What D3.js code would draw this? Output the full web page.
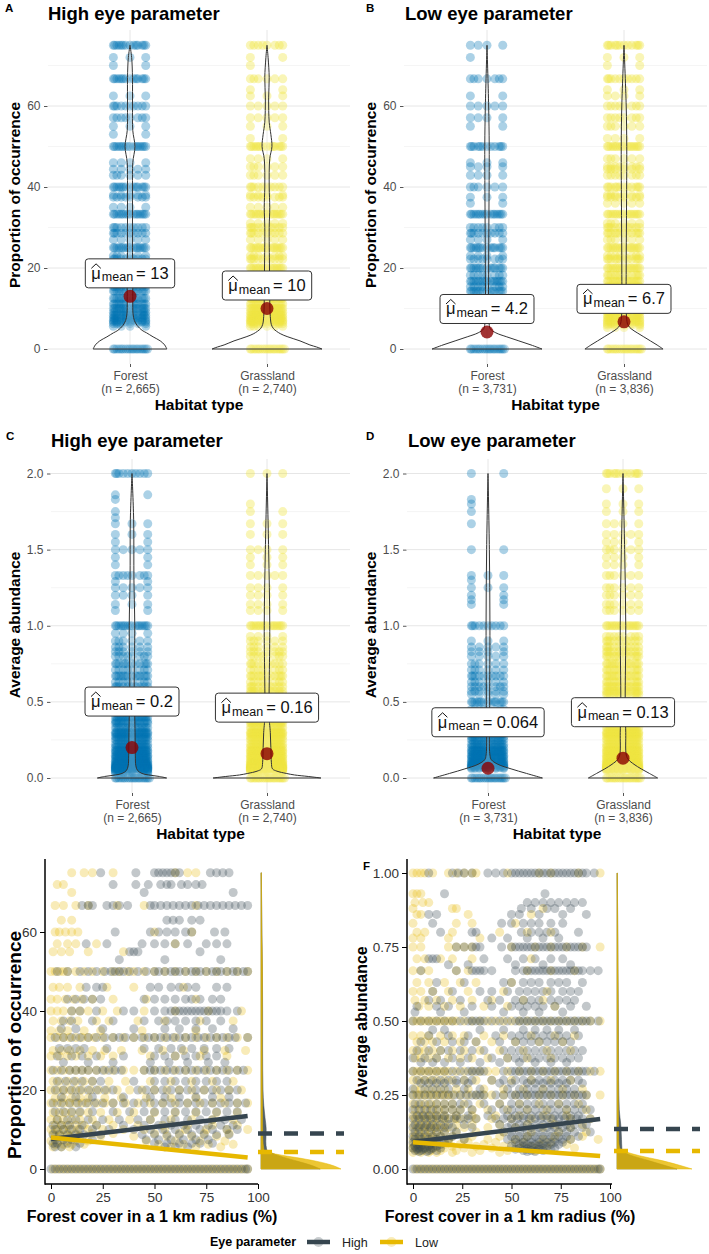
<!DOCTYPE html>
<html><head><meta charset="utf-8">
<script src="https://cdnjs.cloudflare.com/ajax/libs/d3/7.8.5/d3.min.js"></script>
<style>body{margin:0;background:#fff;} svg{display:block;font-family:"Liberation Sans",Arial,sans-serif;}</style>
</head><body><svg id="c" width="709" height="1254"></svg>
<script>
// ---------------- DATA ----------------
const categories = ["Forest", "Grassland"];
const nHigh = ["2,665", "2,740"];
const nLow = ["3,731", "3,836"];
const occTicks = [0, 20, 40, 60];
const occMinor = [10, 30, 50, 70];
const abTicks = [0, 0.5, 1.0, 1.5, 2.0];
const abMinor = [0.25, 0.75, 1.25, 1.75];

const meanOccHigh = [13, 10];
const meanOccLow = [4.2, 6.7];
const meanAbHigh = [0.2, 0.16];
const meanAbLow = [0.064, 0.13];
const meanTextOccHigh = ["13", "10"];
const meanTextOccLow = ["4.2", "6.7"];
const meanTextAbHigh = ["0.2", "0.16"];
const meanTextAbLow = ["0.064", "0.13"];

// observed value levels [value, number of overlapping points]
const levOccHighForest = [[75,14],[72,3],[70,2],[66.7,14],[62.5,3],[60,10],[57.1,8],[55,3],[53,2],[50,16],[46,4],[44.4,5],[42.9,6],[40,14],[38,5],[37.5,8],[35,4],[33.3,16],[30,10],[28.6,10],[27,5],[25,16],[23,6],[22.2,10],[20,16],[18.2,10],[16.7,16],[15.4,10],[14.3,14],[12.5,14],[11.1,14],[10,14],[9.1,12],[8.3,12],[7.7,10],[7.1,10],[6.7,8],[6.25,6],[5.6,4],[0,18]];
const levOccHighGrass = [[75,8],[72,2],[70,1],[66.7,6],[64,2],[62.5,3],[60,5],[57.1,5],[55,3],[52,2],[50,14],[47,4],[45,6],[42.9,6],[40,10],[38,4],[37.5,8],[35,5],[33.3,16],[31,5],[30,10],[28.6,10],[27,5],[25,16],[23,7],[22.2,10],[20,16],[18.2,12],[16.7,16],[15.4,12],[14.3,16],[13,10],[12.5,14],[11.1,14],[10,16],[9.1,14],[8.3,14],[7.7,12],[7.1,12],[6.7,10],[6.25,8],[5.6,6],[0,18]];
const levOccLowForest = [[75,4],[72,1],[66.7,7],[62.5,2],[60,5],[57.1,4],[55,2],[50,12],[46,3],[45,4],[42.9,4],[40,6],[37.5,3],[36,2],[33.3,16],[30,8],[28.6,10],[27,4],[25,14],[23,4],[22.2,8],[20,14],[18.2,8],[16.7,16],[15.4,8],[14.3,14],[12.5,10],[11.1,8],[10,6],[0,18]];
const levOccLowGrass = [[75,12],[72,3],[70,2],[66.7,10],[64,3],[62.5,4],[60,8],[57.1,8],[55,6],[52,4],[50,16],[47,6],[45,8],[44.4,6],[42.9,8],[40,12],[38,6],[37.5,8],[36,5],[33.3,16],[31,6],[30,10],[28.6,12],[27,6],[25,16],[23,8],[22.2,12],[20,16],[18.2,12],[16.7,16],[15.4,12],[14.3,16],[13,10],[12.5,14],[11.1,14],[10,14],[9.1,12],[8.3,12],[7.7,10],[7.1,10],[6.7,8],[6.25,6],[5.9,5],[5.3,4],[0,18]];
const levAbHighForest = [[2.0,10],[1.86,2],[1.83,1],[1.75,1],[1.71,1],[1.67,3],[1.6,3],[1.55,2],[1.5,5],[1.45,2],[1.4,2],[1.33,8],[1.29,2],[1.25,5],[1.2,4],[1.14,3],[1.1,2],[1.0,16],[0.95,4],[0.9,6],[0.86,6],[0.83,6],[0.8,8],[0.75,12],[0.71,8],[0.67,14],[0.63,8],[0.6,10],[0.57,8],[0.55,8],[0.5,16],[0.45,12],[0.43,12],[0.4,16],[0.375,14],[0.36,10],[0.33,16],[0.3,16],[0.29,14],[0.27,14],[0.25,16],[0.22,16],[0.2,16],[0.18,16],[0.17,16],[0.15,16],[0.14,16],[0.125,16],[0.11,16],[0.1,16],[0.09,14],[0.083,14],[0.077,12],[0.071,12],[0.067,10],[0.0625,10],[0.059,8],[0.056,8],[0.05,8],[0.04,6],[0.033,4],[0,18]];
const levAbHighGrass = [[2.0,3],[1.8,1],[1.75,2],[1.67,3],[1.6,3],[1.5,4],[1.45,3],[1.4,3],[1.33,5],[1.25,4],[1.2,4],[1.14,4],[1.1,4],[1.0,16],[0.93,4],[0.9,6],[0.86,6],[0.83,7],[0.8,8],[0.75,10],[0.71,8],[0.67,12],[0.63,8],[0.6,10],[0.57,10],[0.55,8],[0.5,16],[0.45,12],[0.43,12],[0.4,16],[0.375,14],[0.36,12],[0.33,16],[0.3,16],[0.29,16],[0.27,16],[0.25,16],[0.22,16],[0.2,16],[0.18,16],[0.17,16],[0.15,16],[0.14,16],[0.125,16],[0.11,16],[0.1,16],[0.09,16],[0.083,14],[0.077,14],[0.071,12],[0.067,12],[0.0625,10],[0.059,10],[0.056,8],[0.05,8],[0.04,6],[0,18]];
const levAbLowForest = [[2.0,2],[1.83,1],[1.8,1],[1.75,1],[1.67,1],[1.5,2],[1.33,3],[1.3,1],[1.25,3],[1.2,2],[1.17,2],[1.14,2],[1.0,10],[0.9,3],[0.86,5],[0.83,4],[0.8,5],[0.75,6],[0.71,6],[0.67,10],[0.63,6],[0.6,8],[0.57,6],[0.55,5],[0.5,14],[0.45,8],[0.43,8],[0.4,10],[0.375,10],[0.33,16],[0.3,12],[0.29,12],[0.27,10],[0.25,16],[0.22,14],[0.2,16],[0.18,14],[0.17,16],[0.15,14],[0.14,14],[0.125,14],[0.11,12],[0.1,12],[0.09,10],[0.083,10],[0.077,8],[0.071,8],[0.067,8],[0.0625,6],[0,18]];
const levAbLowGrass = [[2.0,12],[1.9,3],[1.8,3],[1.75,3],[1.67,4],[1.6,5],[1.55,4],[1.5,6],[1.45,4],[1.4,4],[1.33,6],[1.25,6],[1.2,6],[1.14,6],[1.1,6],[1.0,16],[0.93,8],[0.9,10],[0.86,10],[0.83,10],[0.8,12],[0.75,14],[0.71,12],[0.67,14],[0.63,12],[0.6,14],[0.57,12],[0.55,12],[0.5,16],[0.45,14],[0.43,14],[0.4,16],[0.375,14],[0.36,14],[0.33,16],[0.3,16],[0.29,16],[0.27,16],[0.25,16],[0.22,16],[0.2,16],[0.18,16],[0.17,16],[0.15,16],[0.14,16],[0.125,16],[0.11,16],[0.1,16],[0.09,16],[0.083,14],[0.077,14],[0.071,12],[0.067,12],[0.0625,10],[0.059,10],[0.056,8],[0.05,8],[0,18]];

// violin densities [value, relative density]
const vioOccHighForest = [[0,0.67],[1,0.63],[2,0.55],[3,0.42],[4,0.3],[4.6,0.22],[5.8,0.13],[7,0.08],[8.7,0.055],[12,0.05],[16,0.05],[25,0.045],[33,0.045],[40,0.045],[46,0.05],[50,0.09],[54,0.05],[60,0.045],[67,0.045],[72,0.03],[75,0]];
const vioOccHighGrass = [[0,1.0],[0.5,0.9],[1,0.78],[2,0.6],[3,0.38],[3.8,0.24],[5,0.12],[6,0.08],[8,0.06],[12,0.05],[20,0.045],[30,0.04],[35,0.05],[40,0.04],[47,0.05],[50,0.09],[53,0.07],[56,0.04],[62,0.03],[67,0.04],[72,0.02],[75,0]];
const vioOccLowForest = [[0,1.0],[1,0.8],[2,0.58],[3,0.36],[4,0.16],[5,0.06],[7,0.035],[20,0.03],[33,0.035],[50,0.04],[60,0.03],[75,0]];
const vioOccLowGrass = [[0,0.71],[1,0.6],[2,0.48],[3,0.36],[4,0.24],[5,0.13],[6,0.07],[8,0.045],[20,0.04],[33,0.045],[50,0.05],[60,0.04],[75,0]];
const vioAbHighForest = [[0,0.63],[0.01,0.5],[0.02,0.3],[0.03,0.18],[0.05,0.1],[0.08,0.07],[0.15,0.06],[0.3,0.055],[0.4,0.05],[0.6,0.04],[1.0,0.05],[1.3,0.035],[1.7,0.03],[2.0,0]];
const vioAbHighGrass = [[0,0.98],[0.01,0.75],[0.02,0.5],[0.03,0.35],[0.045,0.18],[0.06,0.1],[0.1,0.08],[0.2,0.07],[0.3,0.06],[0.4,0.04],[1.0,0.05],[1.5,0.03],[2.0,0]];
const vioAbLowForest = [[0,0.99],[0.03,0.7],[0.06,0.42],[0.09,0.18],[0.12,0.06],[0.15,0.035],[0.5,0.03],[1.0,0.035],[1.5,0.025],[2.0,0]];
const vioAbLowGrass = [[0,0.63],[0.03,0.48],[0.06,0.33],[0.09,0.2],[0.12,0.1],[0.15,0.06],[0.3,0.05],[0.5,0.04],[1.0,0.05],[1.5,0.03],[2.0,0]];

// fixed horizontal spread pattern for overlapping points (fraction of jitter width)
const jitterPattern = [-0.95, 0.9, 0.0, -0.5, 0.45, -0.75, 0.7, -0.25, 0.22, -0.88, 0.8, -0.4, 0.35, -0.62, 0.58, -0.12, 0.12, 1.0];

// ---- scatter panels (E, F): forest cover (%) per observed y level ----
const eyeGroups = ["High", "Low"];
const coverTicks = [0, 25, 50, 75, 100];
const occTicksE = [0, 20, 40, 60];
const abTicksF = [0, 0.25, 0.5, 0.75, 1.0];

const rowsEHigh = [
[75,"24 41 50 52 54 56 58 60 62 77 80 83 86"],[72,"30 41 47 53 56 58 63 66 70 73"],[70,"45 88"],
[66.7,"15 18 20 27 30 33 37 48 50 53 56 59 62 65 68 71 74 77 80 83 86 89 92 95"],[63,"56 59 62 68 72"],
[60,"31 48 52 56 60 65 68 79 84"],[57,"17 27 44 50 55 60 66 75 80 85"],[55,"38 40 42 72"],[53,"33 55 82"],
[50,"3 8 14 18 22 26 29 31 33 35 38 42 46 50 52 55 58 60 62 65 68 70 72 75 78 80 82 85 88 90 93 95"],
[46,"17 22 25 48 52 58 62 66 70 80 85"],[43,"8 12 16 20 24 45 50 55 60 65 68 72 78 82"],
[40,"10 14 22 35 40 50 55 58 60 62 64 66 68 70 72 74 76 78 80 82 85 90"],[37.5,"6 10 20 30 45 52 56 60 65 70 75 82"],
[35.5,"5 12 25 40 55 62 70 78 88"],
[33.3,"2 6 10 14 18 22 26 30 33 36 40 44 47 50 53 56 59 62 65 68 71 74 77 80 83 86 89 95"],
[30.5,"4 8 12 16 27 45 52 58 63 68 74 80 86"],[28.6,"3 10 15 22 35 50 55 60 65 70 75 80"],[27,"6 18 30 48 57 66 76 84"],
[25,"1 5 9 12 15 18 22 25 28 31 34 45 48 50 53 56 59 62 65 68 71 74 77 80 83 86 90 93"],
[22.2,"3 7 11 15 20 24 40 50 55 60 65 70 75 80 85"],
[20,"2 6 10 14 18 22 26 30 42 46 50 54 58 62 66 70 74 78 82 86 90"],[18.2,"5 12 20 35 48 55 62 70 78 86"],
[16.7,"1 5 9 13 17 21 25 30 35 40 45 50 54 58 62 66 70 74 78 82 86 90 94"],
[14.5,"2 6 10 14 20 30 38 45 50 55 60 65 70 75 80 85 90"],[12.5,"3 8 12 18 25 33 42 48 55 60 66 72 78 84 92"],
[11.1,"1 5 9 15 22 35 45 52 58 64 70 76 82 88"],[10,"2 6 10 14 20 28 40 48 54 60 66 72 78 85 90"],
[8.7,"1 4 8 12 16 24 44 50 56 62 68 74 80 86"],[7.4,"2 6 10 20 46 52 58 64 70 76"],
[6.5,"1 3 8 14 50 56 62 68 72 78"],[5.6,"2 5 12 55 60 66"],
[0,"0 2 4 6 8 10 12 14 16 18 20 22 24 26 28 30 32 34 36 38 40 42 44 46 48 50 52 54 56 58 60 62 64 66 68 70 72 74 76 78 80 82 84 86 88 90 92 94 95"]
];
const rowsELow = [
[75,"10 16 20 30 60 66 70"],[72,"3 6"],[70,"10"],
[66.7,"2 6 12 18 32 45 70"],[63,"5 10"],[60,"2 4 7 10 13 50 68"],
[57,"3 8 12 22 60"],[55,"1 5 9 18 35"],
[50,"0 2 4 6 8 12 16 20 25 30 33 37 40 45 50 55 60 65 70 75 80 85 90 95"],
[46,"1 4 8 14 27 40 64"],[43,"0 3 7 11 15 20 30 46 70"],
[40,"0 3 6 10 14 18 25 32 45 60 76 92"],[37.5,"1 5 9 13 22 28 42 55 72 88"],[35,"0 4 8 16 24 44 70"],
[33.3,"0 3 6 9 12 15 18 21 25 30 35 40 45 50 55 60 65 70 75 80 85 90 95"],
[30,"1 5 9 14 20 26 34 44 54 64 74 84 94"],[28.6,"0 4 8 12 18 24 30 48 60 72 85"],
[25,"0 3 6 9 12 15 18 22 26 30 35 40 45 50 55 60 65 70 75 80 85 90 95"],
[22.2,"1 4 8 12 16 20 28 36 48 58 68 78 88"],
[20,"0 3 6 9 12 15 19 23 27 32 38 44 50 56 62 68 74 80 86 92"],[18,"2 6 10 14 18 26 34 46 58 70 82"],
[16.7,"0 3 6 9 12 15 18 22 26 30 36 42 48 54 60 66 72 78 84 90 95"],
[14.3,"1 4 7 10 14 18 24 32 40 50 60 70 80 90"],[12.5,"0 3 6 10 14 20 28 38 48 58 68 78 88"],
[11.1,"2 5 8 12 16 22 30 42 54 66 78 90"],[10,"0 3 6 9 13 18 25 35 45 55 65 75 85 95"],
[9,"1 4 8 12 20 30 50 62 74 86"],[8.3,"2 5 9 14 24 40 56 68 80"],[7.1,"0 4 8 12 18 46 60 72 84"],
[6.25,"2 6 10 16 52 64 76 88"],[5.6,"1 5 9 58 70 82"],
[0,"1 3 5 7 9 11 13 15 17 19 21 23 25 27 29 31 33 35 37 39 41 43 45 47 49 51 53 55 57 59 61 63 65 67 69 71 73 75 77 79 81 83 85 87 89 91 93 95"]
];
const rowsFHigh = [
[1.0,"8 20 23 26 30 38 42 46 50 52 54 56 58 60 62 64 66 68 70 72 74 76 78 80 82 84 86 88 92"],[0.93,"16 67"],
[0.9,"58 62 66 70 74 78 82 86"],[0.88,"55 60 68 72 80"],[0.86,"8 12 50 54 64 76 88"],[0.83,"10 45 50 56 60 64 70 76"],
[0.8,"14 30 32 55 60 64 68 72 84"],[0.78,"40 48 58 66 74"],
[0.75,"22 26 30 32 34 45 50 52 54 56 58 60 62 64 66 68 70 72 74 76 78 80 82 84 86 88"],
[0.71,"8 10 12 36 48 56 62 70 76"],[0.69,"18 28 52 66 80"],
[0.67,"4 22 30 32 34 36 40 52 56 58 60 62 64 66 68 70 72 74 76 78 80 82 84 86 90 94"],
[0.63,"12 26 46 50 56 60 64 70 74 78 86"],[0.6,"10 20 34 40 48 54 58 62 66 70 76 80 84"],
[0.57,"8 14 24 38 44 52 56 60 64 70 74 78 82"],[0.55,"2 12 18 30 40 50 54 58 62 66 72 80 88"],[0.53,"1 14 26 46 56 64 76"],
[0.5,"0 4 8 12 16 20 24 28 30 32 34 36 40 44 48 52 54 56 58 60 62 64 66 68 70 72 74 76 78 80 82 84 86 88 90 94"],
[0.47,"10 16 34 46 56 62 68 74 82"],[0.45,"8 18 28 42 50 54 58 62 66 70 74 78 84"],
[0.43,"4 12 20 26 32 44 52 56 60 64 68 72 76 80"],[0.4,"2 8 14 18 24 30 36 46 50 54 58 62 66 70 74 78 82 86"],
[0.375,"0 6 12 20 28 40 48 52 56 60 64 68 72 76 80 84"],[0.36,"4 10 16 24 34 44 54 62 70 78"],
[0.33,"0 4 8 12 16 20 24 28 30 32 34 36 46 50 52 54 56 58 60 62 64 66 68 70 72 74 76 78 80 82 84 86 88 92"],
[0.3,"2 6 10 14 18 22 26 30 40 46 52 56 60 64 68 72 76 80 84"],[0.29,"4 8 12 16 22 28 44 50 58 62 66 70 74 78 86"],
[0.27,"0 6 10 14 18 26 34 48 54 58 62 66 70 74 78 82"],
[0.25,"0 3 6 9 12 15 18 21 24 27 30 32 34 36 42 46 50 52 54 56 58 60 62 64 66 68 70 72 74 76 78 80 82 84 86 88"],
[0.22,"1 4 8 12 16 20 24 28 36 44 50 54 58 62 66 70 74 78 82 86"],
[0.2,"0 3 6 9 12 16 20 24 30 40 46 50 54 58 62 66 70 74 78 82 86 90"],
[0.18,"2 5 8 12 16 22 28 38 48 52 56 60 64 68 72 76 80 84"],
[0.17,"0 3 6 9 12 15 18 21 24 28 32 42 46 50 53 56 59 62 65 68 71 74 77 80 83 86 90"],
[0.15,"1 4 7 10 14 18 26 44 50 54 58 62 66 70 74 78 82 88"],[0.14,"0 3 6 9 12 16 20 30 48 52 56 60 64 68 72 76 80 86"],
[0.125,"1 4 8 12 16 22 46 50 54 58 62 66 70 74 78 82 90"],[0.11,"0 3 6 10 14 20 50 54 58 62 66 70 74 78 84"],
[0.1,"1 4 8 12 18 26 48 52 56 60 64 68 72 76 80"],[0.09,"0 3 6 10 16 52 56 60 64 68 72 76"],
[0.083,"2 5 9 14 54 58 62 66 70 74"],[0.077,"1 4 8 12 50 56 60 64 68"],[0.071,"0 3 6 10 14 54 58 62 66 72"],
[0.067,"2 5 9 52 58 64 70"],[0.0625,"1 4 8 12 56 60 66"],[0.059,"3 7 58 62"],
[0,"0 2 4 6 8 10 12 14 16 18 20 22 24 26 28 30 32 34 36 38 40 42 44 46 48 50 52 54 56 58 60 62 64 66 68 70 72 74 76 78 80 82 84 86 88 90 92 94 95"]
];
const rowsFLow = [
[1.0,"0 2 4 6 10 18 22 26 30 32 48 64 70 84 95"],[0.93,"0 2 4"],[0.9,"1 5 8"],[0.88,"0 20 22 66"],
[0.86,"2 4 28 60"],[0.83,"0 22 30 52"],[0.8,"2 6 20 44 58 70"],[0.78,"0 4 18 34"],
[0.75,"0 4 18 22 26 30 50 62 70 78 86 95"],[0.71,"2 6 14 20 30 60"],
[0.67,"0 4 8 22 28 58 70 82"],[0.63,"2 8 16 24 32 50"],[0.6,"0 4 10 18 28 46 68"],
[0.57,"1 6 12 20 30 40 56 66"],[0.55,"3 8 16 24 36 48 72"],
[0.5,"0 2 4 6 8 10 12 14 16 18 20 22 26 30 34 38 42 46 50 54 58 62 66 70 74 78 82 86 90 95"],
[0.45,"0 4 8 14 20 26 36 46 60 72 82"],[0.43,"2 6 10 16 24 32 40 52 64 76"],[0.4,"0 3 6 10 14 20 26 34 44 56 68 80"],
[0.375,"1 4 8 12 18 24 30 38 48 58 70"],
[0.33,"0 2 4 6 8 10 12 14 16 18 22 26 30 34 38 42 48 54 60 66 72 78 84 90 95"],
[0.3,"0 3 6 9 12 16 20 26 32 40 50 60 70 80"],[0.27,"1 4 8 12 16 22 28 36 46 56 66 76 86"],
[0.25,"0 2 4 6 8 10 12 14 16 18 20 24 28 32 36 40 46 52 58 64 70 76 82 88 95"],
[0.22,"0 3 6 9 12 16 20 26 34 44 54 64 74 84"],[0.2,"1 4 7 10 13 16 20 24 30 38 48 58 68 78 88"],
[0.18,"0 3 6 9 12 16 22 30 42 54 66 78"],[0.17,"1 4 7 10 13 16 19 22 26 32 40 50 60 70 80 90"],
[0.15,"0 3 6 9 12 16 22 30 44 58 72 86"],[0.14,"2 5 8 11 14 18 26 38 52 66 80"],
[0.125,"0 3 6 9 12 16 22 32 46 60 74 88"],[0.11,"1 4 7 10 14 20 30 44 58 72 86"],
[0.1,"0 3 6 9 12 18 26 38 52 66 80 94"],[0.09,"2 5 8 12 18 28 42 56 70"],[0.083,"0 3 6 10 16 24 36 50 64 78"],
[0.077,"1 4 8 12 20 32 46 60"],[0.071,"0 3 6 10 16 26 40 54 68 82"],[0.0625,"2 5 9 14 22 34 48 62"],
[0.056,"0 4 8 12 20 30 44"],
[0,"1 3 5 7 9 11 13 15 17 19 21 23 25 27 29 31 33 35 37 39 41 43 45 47 49 51 53 55 57 59 61 63 65 67 69 71 73 75 77 79 81 83 85 87 89 91 93 95"]
];

// regression lines [forest cover, fitted value]
const regEHigh = [[0, 7.6], [95, 13.4]];
const regELow = [[0, 8.0], [95, 2.9]];
const regFHigh = [[0, 0.091], [95, 0.169]];
const regFLow = [[0, 0.09], [95, 0.044]];
// group means shown as dashed lines
const meanLineE = [9.0, 4.3];
const meanLineF = [0.135, 0.061];
// marginal densities [value, relative density]
const densEHigh = [[0,0.74],[1,0.62],[2,0.45],[3,0.28],[4,0.14],[5,0.07],[7,0.06],[10,0.065],[13,0.05],[16,0.035],[20,0.025],[30,0.02],[40,0.02],[50,0.018],[60,0.012],[75,0.004]];
const densELow = [[0,1.0],[1,0.88],[1.8,0.73],[2.7,0.5],[3.5,0.26],[4.3,0.08],[5,0.035],[8,0.022],[15,0.018],[30,0.015],[50,0.018],[60,0.01],[75,0.004]];
const densFHigh = [[0,0.8],[0.015,0.6],[0.03,0.4],[0.05,0.15],[0.07,0.065],[0.1,0.06],[0.15,0.05],[0.2,0.03],[0.3,0.022],[0.5,0.018],[1,0.004]];
const densFLow = [[0,1.0],[0.015,0.8],[0.03,0.57],[0.045,0.3],[0.06,0.1],[0.07,0.035],[0.1,0.022],[0.2,0.018],[0.5,0.016],[0.75,0.012],[1,0.004]];

// ---------------- DRAWING ----------------
const habitatColors = ["#0072B2", "#F0E442"];
const eyeColors = ["#36454F", "#E7B800"];
const svg = d3.select("#c");
svg.append("rect").attr("width", 709).attr("height", 1254).attr("fill", "#fff");

function styleAxis(g, color, size, tickColor) {
  g.select(".domain").remove();
  g.selectAll(".tick line").attr("stroke", tickColor || "#333").attr("stroke-width", 1);
  g.selectAll(".tick text").attr("fill", color).attr("font-size", size)
    .attr("font-family", '"Liberation Sans", Arial, sans-serif');
}

function meanLabel(g, cx, cy, valueText) {
  const grp = g.append("g");
  const rect = grp.append("rect");
  const base = cy + 5.5;
  const t1 = grp.append("text").attr("font-size", 16.5).attr("fill", "#111").text("μ");
  const w1 = t1.node().getComputedTextLength();
  const t2 = grp.append("text").attr("font-size", 12.5).attr("fill", "#111").text("mean");
  const w2 = t2.node().getComputedTextLength();
  const t3 = grp.append("text").attr("font-size", 16.5).attr("fill", "#111").text("= " + valueText);
  const w3 = t3.node().getComputedTextLength();
  const total = w1 + 1 + w2 + 3 + w3;
  const x0 = cx - total / 2;
  t1.attr("x", x0).attr("y", base);
  t2.attr("x", x0 + w1 + 1).attr("y", base + 2.5);
  t3.attr("x", x0 + w1 + 1 + w2 + 3).attr("y", base);
  grp.append("path").attr("d", `M${x0},${base - 10.5}L${x0 + w1 / 2},${base - 15}L${x0 + w1},${base - 10.5}`)
    .attr("fill", "none").attr("stroke", "#111").attr("stroke-width", 1);
  rect.attr("x", x0 - 6).attr("y", cy - 14.5).attr("width", total + 12).attr("height", 29)
    .attr("rx", 3).attr("fill", "#fff").attr("stroke", "#333").attr("stroke-width", 1);
}

function violinPanel(o) {
  const g = svg.append("g");
  const xs = d3.scalePoint().domain(categories).range(o.cx);
  const ys = d3.scaleLinear().domain(o.yDom).range(o.yRng);
  o.minor.forEach(v => g.append("line").attr("x1", o.left).attr("x2", o.right)
    .attr("y1", ys(v)).attr("y2", ys(v)).attr("stroke", "#F2F2F2").attr("stroke-width", 0.8));
  o.ticks.forEach(v => g.append("line").attr("x1", o.left).attr("x2", o.right)
    .attr("y1", ys(v)).attr("y2", ys(v)).attr("stroke", "#E6E6E6").attr("stroke-width", 1));
  categories.forEach(c => g.append("line").attr("x1", xs(c)).attr("x2", xs(c))
    .attr("y1", o.top).attr("y2", o.bottom).attr("stroke", "#E6E6E6").attr("stroke-width", 1));
  categories.forEach((c, i) => {
    o.levels[i].forEach(([v, n]) => {
      for (let k = 0; k < n; k++) {
        g.append("circle").attr("cx", xs(c) + jitterPattern[k] * 17.5).attr("cy", ys(v)).attr("r", 4.5)
          .attr("fill", habitatColors[i]).attr("fill-opacity", i === 0 ? 0.33 : 0.38);
      }
    });
  });
  categories.forEach((c, i) => {
    const area = d3.area().y(d => ys(d[0])).x0(d => xs(c) - d[1] * 55).x1(d => xs(c) + d[1] * 55)
      .curve(d3.curveCatmullRom.alpha(0.5));
    g.append("path").attr("d", area(o.dens[i])).attr("fill", "#fff").attr("fill-opacity", 0.2)
      .attr("stroke", "#333").attr("stroke-width", 1);
  });
  categories.forEach((c, i) => {
    g.append("circle").attr("cx", xs(c)).attr("cy", ys(o.means[i])).attr("r", 6.5)
      .attr("fill", "#8B0000").attr("fill-opacity", 0.8);
  });
  categories.forEach((c, i) => meanLabel(g, xs(c), ys(o.means[i]) - o.labOff, o.meanText[i]));
  const ya = g.append("g").attr("transform", `translate(${o.left - 0.5},0)`)
    .call(d3.axisLeft(ys).tickValues(o.ticks).tickSize(3.5).tickPadding(3.5).tickFormat(o.fmt));
  styleAxis(ya, "#4D4D4D", 12, "#555");
  const xa = g.append("g").attr("transform", `translate(0,${o.bottom})`)
    .call(d3.axisBottom(xs).tickSize(3).tickPadding(3));
  styleAxis(xa, "#4D4D4D", 12, "#555");
  xa.selectAll(".tick text").each(function (d, i) {
    const t = d3.select(this).attr("dy", null).attr("y", null).text(null);
    t.append("tspan").attr("x", 0).attr("y", 16).text(d);
    t.append("tspan").attr("x", 0).attr("y", 29).text(`(n = ${o.ns[i]})`);
  });
  g.append("text").attr("x", (o.left + o.right) / 2).attr("y", o.bottom + 46).attr("text-anchor", "middle")
    .attr("font-weight", "bold").attr("font-size", 15.5).text("Habitat type");
  g.append("text").attr("transform", `translate(${o.ylabX},${o.ylabY}) rotate(-90)`).attr("dy", "0.35em")
    .attr("text-anchor", "middle").attr("font-weight", "bold").attr("font-size", 15.5).text(o.ylab);
  g.append("text").attr("x", o.titleX).attr("y", o.titleY).attr("font-weight", "bold").attr("font-size", 18.5).text(o.title);
  g.append("text").attr("x", o.letterX).attr("y", o.letterY).attr("font-weight", "bold").attr("font-size", 11.5).text(o.letter);
}

violinPanel({letter: "A", letterX: 5, letterY: 12, title: "High eye parameter", titleX: 48, titleY: 19.5,
  cx: [130, 267], yDom: [0, 60], yRng: [349, 106], left: 48, right: 350, top: 30, bottom: 364,
  ticks: occTicks, minor: occMinor, fmt: d3.format("d"), levels: [levOccHighForest, levOccHighGrass],
  dens: [vioOccHighForest, vioOccHighGrass], means: meanOccHigh, meanText: meanTextOccHigh, labOff: 23,
  ns: nHigh, ylab: "Proportion of occurrence", ylabX: 15, ylabY: 195});
violinPanel({letter: "B", letterX: 366, letterY: 12, title: "Low eye parameter", titleX: 405, titleY: 19.5,
  cx: [487, 624], yDom: [0, 60], yRng: [349, 106], left: 404, right: 707, top: 30, bottom: 364,
  ticks: occTicks, minor: occMinor, fmt: d3.format("d"), levels: [levOccLowForest, levOccLowGrass],
  dens: [vioOccLowForest, vioOccLowGrass], means: meanOccLow, meanText: meanTextOccLow, labOff: 23,
  ns: nLow, ylab: "Proportion of occurrence", ylabX: 371, ylabY: 195});
violinPanel({letter: "C", letterX: 6, letterY: 440, title: "High eye parameter", titleX: 51, titleY: 447,
  cx: [132, 267], yDom: [0, 2], yRng: [778, 473.5], left: 51, right: 350, top: 459, bottom: 793,
  ticks: abTicks, minor: abMinor, fmt: d3.format(".1f"), levels: [levAbHighForest, levAbHighGrass],
  dens: [vioAbHighForest, vioAbHighGrass], means: meanAbHigh, meanText: meanTextAbHigh, labOff: 46,
  ns: nHigh, ylab: "Average abundance", ylabX: 15, ylabY: 625});
violinPanel({letter: "D", letterX: 366, letterY: 440, title: "Low eye parameter", titleX: 408, titleY: 447,
  cx: [488, 623], yDom: [0, 2], yRng: [778, 473.5], left: 407, right: 707, top: 459, bottom: 793,
  ticks: abTicks, minor: abMinor, fmt: d3.format(".1f"), levels: [levAbLowForest, levAbLowGrass],
  dens: [vioAbLowForest, vioAbLowGrass], means: meanAbLow, meanText: meanTextAbLow, labOff: 46,
  ns: nLow, ylab: "Average abundance", ylabX: 371, ylabY: 625});

function parseRows(rows) {
  const out = [];
  rows.forEach(([y, s]) => s.trim().split(/\s+/).forEach(x => out.push([+x, y])));
  return out;
}

function scatterPanel(o) {
  const g = svg.append("g");
  const xs = d3.scaleLinear().domain([0, 100]).range(o.xRng);
  const ys = d3.scaleLinear().domain(o.yDom).range(o.yRng);
  const sets = [parseRows(o.rows[0]), parseRows(o.rows[1])];
  // Low group first, High group on top
  [1, 0].forEach(i => sets[i].forEach(([x, y]) => g.append("circle").attr("cx", xs(x)).attr("cy", ys(y))
    .attr("r", 4.5).attr("fill", eyeColors[i]).attr("fill-opacity", i === 0 ? 0.3 : 0.28)));
  o.dens.forEach((d, i) => {
    const area = d3.area().y(p => ys(p[0])).x0(o.margX).x1(p => o.margX + p[1] * o.margW)
      .curve(d3.curveMonotoneY);
    g.append("path").attr("d", area(d.slice().reverse())).attr("fill", eyeColors[i]).attr("fill-opacity", i === 0 ? 0.85 : 0.8)
      .attr("stroke", eyeColors[i]).attr("stroke-width", 0.5);
  });
  o.meanLine.forEach((m, i) => g.append("line").attr("x1", o.margX - 3).attr("x2", o.margX + 83)
    .attr("y1", ys(m)).attr("y2", ys(m)).attr("stroke", eyeColors[i]).attr("stroke-width", 4.5)
    .attr("stroke-dasharray", "14,12"));
  const line = d3.line().x(p => xs(p[0])).y(p => ys(p[1]));
  o.reg.forEach((r, i) => g.append("path").attr("d", line(r)).attr("fill", "none")
    .attr("stroke", eyeColors[i]).attr("stroke-width", 4.5));
  g.append("line").attr("x1", o.axX).attr("x2", o.axX).attr("y1", o.top).attr("y2", o.axY + 0.75)
    .attr("stroke", "#000").attr("stroke-width", 1.5);
  g.append("line").attr("x1", o.axX).attr("x2", o.axRight).attr("y1", o.axY).attr("y2", o.axY)
    .attr("stroke", "#000").attr("stroke-width", 1.5);
  const ya = g.append("g").attr("transform", `translate(${o.axX},0)`)
    .call(d3.axisLeft(ys).tickValues(o.ticks).tickSize(5).tickPadding(3).tickFormat(o.fmt));
  styleAxis(ya, "#333", 13.5, "#000");
  const xa = g.append("g").attr("transform", `translate(0,${o.axY})`)
    .call(d3.axisBottom(xs).tickValues(coverTicks).tickSize(5).tickPadding(3));
  styleAxis(xa, "#333", 13.5, "#000");
  g.append("text").attr("x", o.xlabX).attr("y", 1222).attr("text-anchor", "middle").attr("font-weight", "bold")
    .attr("font-size", 16).text("Forest cover in a 1 km radius (%)");
  g.append("text").attr("transform", `translate(${o.ylabX},${o.ylabY}) rotate(-90)`).attr("dy", "0.35em")
    .attr("text-anchor", "middle").attr("font-weight", "bold").attr("font-size", o.ylabSize).text(o.ylab);
  if (o.letter) g.append("text").attr("x", o.letterX).attr("y", o.letterY).attr("font-weight", "bold")
    .attr("font-size", 11.5).text(o.letter);
}

scatterPanel({xRng: [51, 258], yDom: [0, 60], yRng: [1169, 932], rows: [rowsEHigh, rowsELow],
  dens: [densEHigh, densELow], margX: 261, margW: 80, meanLine: meanLineE, reg: [regEHigh, regELow],
  axX: 45, axY: 1184, axRight: 258, top: 859, ticks: occTicksE, fmt: d3.format("d"),
  xlabX: 152, ylabX: 14, ylabY: 1045, ylabSize: 19, ylab: "Proportion of occurrence"});
scatterPanel({xRng: [413, 610], yDom: [0, 1], yRng: [1169, 873], rows: [rowsFHigh, rowsFLow],
  dens: [densFHigh, densFLow], margX: 617, margW: 75, meanLine: meanLineF, reg: [regFHigh, regFLow],
  axX: 407, axY: 1184, axRight: 612, top: 859, ticks: abTicksF, fmt: d3.format(".2f"),
  xlabX: 510, ylabX: 361, ylabY: 1022, ylabSize: 16, ylab: "Average abundance",
  letter: "F", letterX: 363, letterY: 870});

// legend
const lg = svg.append("g");
lg.append("text").attr("x", 210).attr("y", 1246).attr("font-weight", "bold").attr("font-size", 12.5).text("Eye parameter");
const legX = [307, 380];
eyeGroups.forEach((grp, i) => {
  lg.append("circle").attr("cx", legX[i] + 11.5).attr("cy", 1242).attr("r", 5).attr("fill", eyeColors[i]).attr("fill-opacity", 0.27);
  lg.append("line").attr("x1", legX[i]).attr("x2", legX[i] + 23).attr("y1", 1242).attr("y2", 1242)
    .attr("stroke", eyeColors[i]).attr("stroke-width", 4.5);
  lg.append("text").attr("x", legX[i] + 35).attr("y", 1246.5).attr("font-size", 12.5).attr("fill", "#222").text(grp);
});
</script></body></html>
